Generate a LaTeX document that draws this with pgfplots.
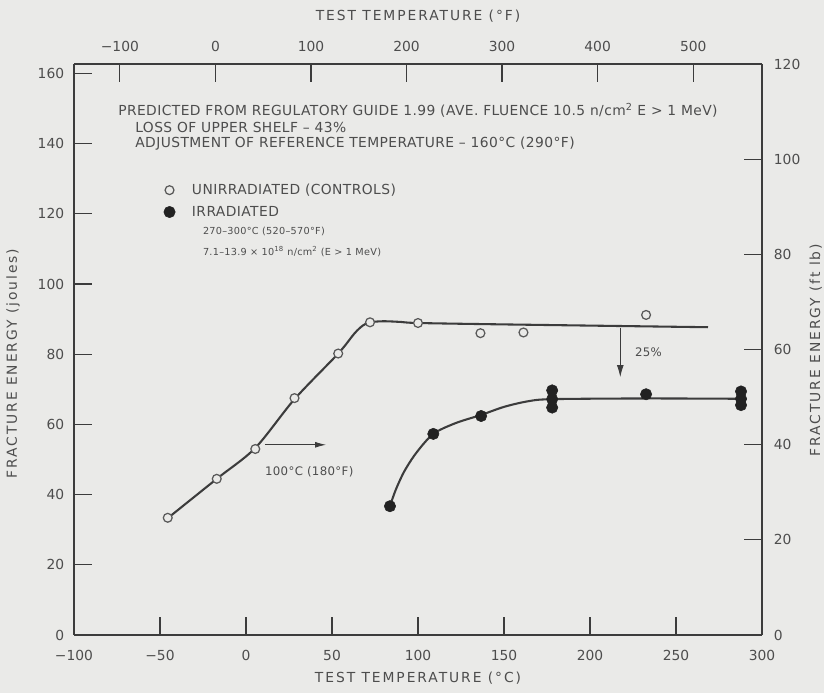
\documentclass[border=0pt]{standalone}
\usepackage{pgfplots}
\pgfplotsset{compat=1.18}
\usepackage{pgfplotstable}
\usepackage{fontspec}
\setmainfont{DejaVu Sans}
\newfontfamily\titlefont{DejaVu Sans}[LetterSpace=14]
\newfontfamily\annfont{DejaVu Sans}[LetterSpace=3]
\usetikzlibrary{backgrounds,arrows.meta,calc}
\definecolor{bg}{HTML}{EAEAE8}
\definecolor{ink}{HTML}{3C3C3C}
\definecolor{txt}{HTML}{4D4D4D}
\definecolor{dot}{HTML}{222222}

\pgfplotstableread{
x y
-45.5 33.4
-17.0 44.5
5.4 53.0
28.2 67.5
53.6 80.2
72.1 89.1
100.0 88.9
136.3 86.0
161.3 86.2
232.6 91.2
}\unirr

\pgfplotstableread{
x y
83.7 36.7
108.9 57.3
136.7 62.4
178.0 69.7
178.0 67.2
178.0 64.8
232.6 68.6
287.8 69.4
287.8 67.3
287.8 65.5
}\irr

\pgfplotstableread{
x y
-47.0 32.7
-17.0 44.5
5.4 53.3
28.2 67.2
53.6 80.2
63.0 85.9
68.0 88.2
72.1 89.1
80.0 89.4
90.0 89.2
100.0 88.9
150.0 88.5
268.6 87.7
}\unirrfit

\pgfplotstableread{
x y
83.7 36.7
87.0 41.3
92.0 46.6
99.0 51.9
108.9 57.3
122.0 60.4
136.7 62.7
150.0 65.0
164.0 66.6
178.0 67.2
232.6 67.4
291.0 67.3
}\irrfit

\begin{document}
\begin{tikzpicture}
\begin{axis}[name=ax,
  scale only axis, width=17.475cm, height=14.503cm,
  xmin=-100, xmax=300, ymin=0, ymax=162.7,
  axis x line*=bottom, axis y line*=left,
  axis line style={ink, line width=1.4pt},
  every tick/.style={ink, line width=0.9pt},
  tick align=inside, major tick length=0.457cm,
  xtick={-100,-50,...,300},
  xticklabels={−100,−50,0,50,100,150,200,250,300},
  ytick={0,20,...,160},
  /pgf/number format/assume math mode=true,
  ticklabel style={font=\fontsize{10}{12}\selectfont, text=txt},
  xticklabel style={yshift=-0.254cm},
  yticklabel style={xshift=-0.127cm},
  xlabel={TEST TEMPERATURE (°C)},
  ylabel={FRACTURE ENERGY (joules)},
  label style={font=\titlefont\fontsize{10}{12}\selectfont, text=txt},
  xlabel style={at={(axis description cs:0.5,-0.0753)}, anchor=center},
  ylabel style={at={(axis description cs:-0.0887,0.475)}, anchor=center},
  clip=false,
  legend cell align=left,
  legend style={at={(axis cs:-53.9,130.2)}, anchor=north west, draw=none, fill=none,
    column sep=0.356cm, row sep=0.1cm, font=\annfont\fontsize{10}{12}\selectfont, text=txt},
]
\addplot[ink, line width=1.5pt, smooth, forget plot] table[x=x,y=y] {\unirrfit};
\addplot[ink, line width=1.5pt, smooth, forget plot] table[x=x,y=y] {\irrfit};
\addplot[only marks, mark=*, mark size=3.2pt, mark options={fill=bg, draw=ink!85, line width=0.9pt}] table[x=x,y=y] {\unirr};
\addlegendentry{UNIRRADIATED (CONTROLS)}
\addplot[only marks, mark=*, mark size=4.1pt, mark options={fill=dot, draw=dot}] table[x=x,y=y] {\irr};
\addlegendentry{IRRADIATED}
\addlegendimage{empty legend}
\addlegendentry{\hspace{0.28cm}\fontsize{7}{8.5}\selectfont 270–300°C (520–570°F)}
\addlegendimage{empty legend}
\addlegendentry{\hspace{0.28cm}\fontsize{7}{8.5}\selectfont 7.1–13.9 × 10\textsuperscript{18} n/cm\textsuperscript{2} (E > 1 MeV)}

\node[anchor=west, inner sep=0pt, font=\annfont\fontsize{10}{12}\selectfont, text=txt] at (axis cs:-74.4,149.6) {PREDICTED FROM REGULATORY GUIDE 1.99 (AVE. FLUENCE 10.5 n/cm\textsuperscript{2} E > 1 MeV)};
\node[anchor=west, inner sep=0pt, font=\annfont\fontsize{10}{12}\selectfont, text=txt] at (axis cs:-64.5,144.7) {LOSS OF UPPER SHELF – 43\%};
\node[anchor=west, inner sep=0pt, font=\annfont\fontsize{10}{12}\selectfont, text=txt] at (axis cs:-64.5,139.9) {ADJUSTMENT OF REFERENCE TEMPERATURE – 160°C (290°F)};

\draw[ink, line width=0.6pt, -{Latex[length=7.9pt,width=4.3pt]}] (axis cs:10.9,54.2) -- (axis cs:46.5,54.2);
\node[anchor=west, inner sep=0pt, font=\annfont\fontsize{8.5}{10}\selectfont, text=txt] at (axis cs:10.9,46.6) {100°C (180°F)};
\draw[ink, line width=0.6pt, -{Latex[length=8.7pt,width=5pt]}] (axis cs:217.6,87.6) -- (axis cs:217.6,73.5);
\node[anchor=west, inner sep=0pt, font=\annfont\fontsize{8.5}{10}\selectfont, text=txt] at (axis cs:226,80.7) {25\%};
\end{axis}

\begin{axis}[
  scale only axis, width=17.475cm, height=14.503cm,
  xmin=-148, xmax=572, ymin=0, ymax=120,
  axis x line*=top, axis y line*=right,
  axis line style={ink, line width=1.4pt},
  every tick/.style={ink, line width=0.9pt},
  tick align=inside, major tick length=0.457cm,
  xtick={-100,0,...,500},
  xticklabels={−100,0,100,200,300,400,500},
  ytick={0,20,...,120},
  /pgf/number format/assume math mode=true,
  ticklabel style={font=\fontsize{10}{12}\selectfont, text=txt},
  xticklabel style={yshift=0.178cm},
  yticklabel style={xshift=0.178cm},
  xlabel={TEST TEMPERATURE (°F)},
  ylabel={FRACTURE ENERGY (ft lb)},
  label style={font=\titlefont\fontsize{10}{12}\selectfont, text=txt},
  xlabel style={at={(axis description cs:0.5,1.084)}, anchor=center},
  ylabel style={at={(axis description cs:1.078,0.499)}, anchor=center},
]
\end{axis}

\begin{scope}[on background layer]
\fill[bg] ($(ax.south west)+(-1.8796cm,-1.4732cm)$) rectangle ($(ax.north east)+(1.5748cm,1.6256cm)$);
\end{scope}
\pgfresetboundingbox
\path[use as bounding box] ($(ax.south west)+(-1.8796cm,-1.4732cm)$) rectangle ($(ax.north east)+(1.5748cm,1.6256cm)$);
\end{tikzpicture}
\end{document}
